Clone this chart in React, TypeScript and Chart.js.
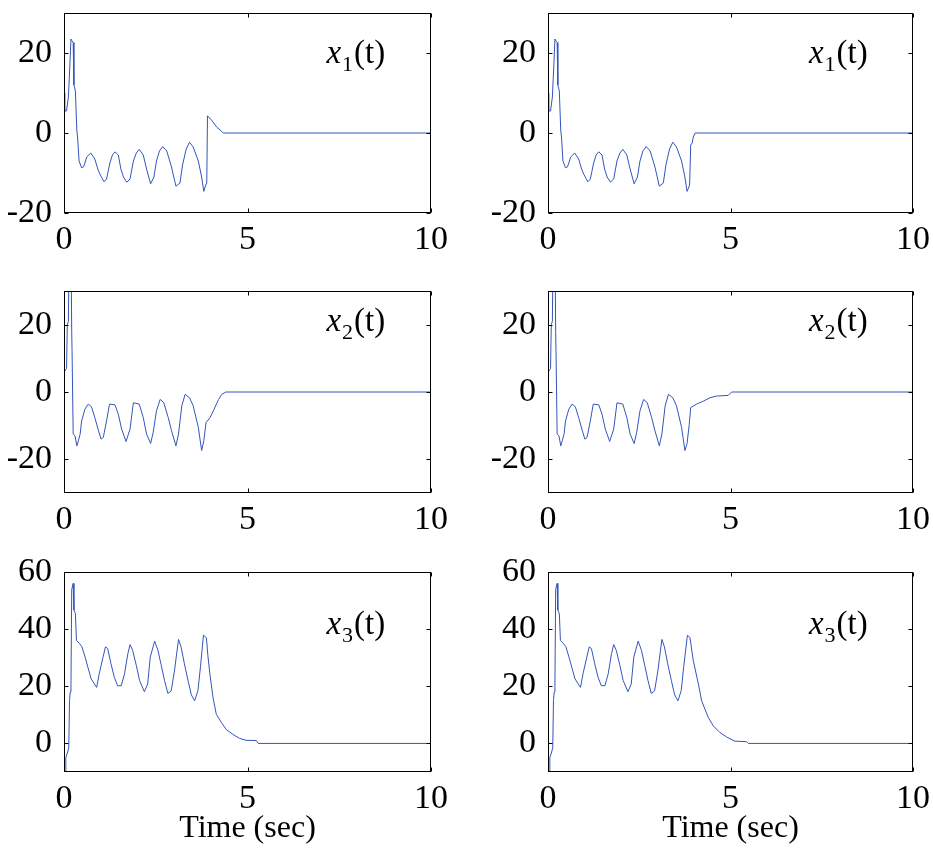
import React, { useEffect, useRef } from "react";
import { Chart, registerables } from "chart.js";

Chart.register(...registerables);

// ---------------- data ----------------
const X_TICKS = [0, 5, 10];
const X_RANGE = [0, 10];
const X_TITLE = "Time (sec)";

const Y_TICKS_X1 = [-20, 0, 20];
const Y_RANGE_X1 = [-20, 30];
const Y_TICKS_X2 = [-20, 0, 20];
const Y_RANGE_X2 = [-30, 30];
const Y_TICKS_X3 = [0, 20, 40, 60];
const Y_RANGE_X3 = [-10, 60];

const LABEL_T = 7.15;
const LABEL_Y_X1 = 17.6;
const LABEL_Y_X2 = 18.2;
const LABEL_Y_X3 = 38.4;

// x1(t), left column
const T_X1_LEFT = [0, 0.02, 0.07, 0.12, 0.16, 0.19, 0.22, 0.25, 0.27, 0.31, 0.35, 0.37, 0.41, 0.48, 0.53, 0.57, 0.62, 0.73, 0.84, 0.92, 0.98, 1.09, 1.16, 1.25, 1.32, 1.39, 1.48, 1.55, 1.62, 1.71, 1.8, 1.89, 1.97, 2.05, 2.16, 2.25, 2.36, 2.45, 2.52, 2.6, 2.69, 2.8, 2.93, 3.05, 3.16, 3.23, 3.33, 3.42, 3.52, 3.66, 3.75, 3.81, 3.86, 3.89, 3.91, 4.02, 4.16, 4.25, 4.34, 10];
const X1_LEFT = [10, 5.5, 5.5, 9, 17, 23.5, 23, 22.6, 12, 10.5, 0.5, -1, -7, -8.7, -8.5, -7.5, -6, -5, -6.5, -9, -10.3, -12.2, -11.5, -7.5, -5.5, -4.7, -5.5, -9, -11, -12.3, -11.5, -7, -5, -4.1, -5.5, -9, -12.7, -11, -7, -4.5, -3.4, -4.5, -8.5, -13.3, -12.5, -8, -4, -2.3, -3.5, -7, -11, -14.6, -13, -12.5, 4.3, 3.2, 1.5, 0.8, 0, 0];

// x1(t), right column
const T_X1_RIGHT = [0, 0.02, 0.07, 0.12, 0.16, 0.19, 0.22, 0.25, 0.27, 0.31, 0.35, 0.37, 0.41, 0.48, 0.53, 0.57, 0.62, 0.73, 0.84, 0.92, 0.98, 1.09, 1.16, 1.25, 1.32, 1.39, 1.48, 1.55, 1.62, 1.71, 1.8, 1.89, 1.97, 2.05, 2.16, 2.25, 2.36, 2.45, 2.52, 2.6, 2.69, 2.8, 2.93, 3.05, 3.16, 3.23, 3.33, 3.42, 3.52, 3.66, 3.75, 3.81, 3.86, 3.88, 3.91, 3.95, 3.98, 4.03, 10];
const X1_RIGHT = [10, 5.5, 5.5, 9, 17, 23.5, 23, 22.6, 12, 10.5, 0.5, -1, -7, -8.7, -8.5, -7.5, -6, -5, -6.5, -9, -10.3, -12.2, -11.5, -7.5, -5.5, -4.7, -5.5, -9, -11, -12.3, -11.5, -7, -5, -4.1, -5.5, -9, -12.7, -11, -7, -4.5, -3.4, -4.5, -8.5, -13.3, -12.5, -8, -4, -2.3, -3.5, -7, -11, -14.6, -13.5, -13, -3, -2.5, -1, 0, 0];

// x2(t), left column
const T_X2_LEFT = [0, 0.01, 0.07, 0.09, 0.12, 0.14, 0.19, 0.21, 0.22, 0.25, 0.3, 0.35, 0.39, 0.44, 0.48, 0.57, 0.66, 0.75, 0.84, 0.94, 1.01, 1.07, 1.16, 1.24, 1.39, 1.48, 1.57, 1.69, 1.8, 1.89, 2.05, 2.16, 2.25, 2.36, 2.43, 2.52, 2.62, 2.72, 2.84, 2.93, 3.05, 3.12, 3.21, 3.3, 3.42, 3.52, 3.66, 3.75, 3.81, 3.87, 3.98, 4.07, 4.21, 4.3, 4.41, 10];
const X2_LEFT = [-10.5, 6, 7, 20, 21, 45, 45, 18, 12, -12.5, -13, -16, -14.5, -12.5, -8.6, -5.1, -3.6, -4.4, -7.6, -11.5, -14, -13.5, -8.6, -3.6, -3.8, -6.6, -11, -14.7, -11, -3.2, -3.6, -7.6, -12.5, -15.3, -12, -5.6, -2.2, -3.2, -7.6, -11.5, -16, -12.5, -4.1, -0.7, -1.7, -4.1, -10.5, -17.4, -14.5, -9.1, -7.6, -5.6, -2.2, -0.7, 0, 0];

// x2(t), right column
const T_X2_RIGHT = [0, 0.01, 0.07, 0.09, 0.12, 0.14, 0.19, 0.21, 0.22, 0.25, 0.3, 0.35, 0.39, 0.44, 0.48, 0.57, 0.66, 0.75, 0.84, 0.94, 1.01, 1.07, 1.16, 1.24, 1.39, 1.48, 1.57, 1.69, 1.8, 1.89, 2.05, 2.16, 2.25, 2.36, 2.43, 2.52, 2.62, 2.72, 2.84, 2.93, 3.05, 3.12, 3.21, 3.3, 3.42, 3.52, 3.66, 3.75, 3.81, 3.87, 3.91, 4.07, 4.26, 4.44, 4.62, 4.94, 5.03, 10];
const X2_RIGHT = [-10.5, 6, 7, 20, 21, 45, 45, 18, 12, -12.5, -13, -16, -14.5, -12.5, -8.6, -5.1, -3.6, -4.4, -7.6, -11.5, -14, -13.5, -8.6, -3.6, -3.8, -6.6, -11, -14.7, -11, -3.2, -3.6, -7.6, -12.5, -15.3, -12, -5.6, -2.2, -3.2, -7.6, -11.5, -16, -12.5, -4.1, -0.7, -1.7, -4.1, -10.5, -17.4, -15.3, -9.6, -4.6, -3.6, -2.7, -1.7, -1.2, -1.0, 0, 0];

// x3(t), left column
const T_X3_LEFT = [0, 0.04, 0.05, 0.1, 0.13, 0.15, 0.17, 0.19, 0.21, 0.25, 0.27, 0.31, 0.34, 0.42, 0.49, 0.58, 0.65, 0.74, 0.83, 0.89, 0.96, 1.06, 1.13, 1.19, 1.28, 1.37, 1.46, 1.56, 1.65, 1.74, 1.8, 1.87, 1.97, 2.06, 2.19, 2.28, 2.35, 2.47, 2.56, 2.65, 2.74, 2.83, 2.92, 3.01, 3.12, 3.19, 3.28, 3.38, 3.47, 3.56, 3.65, 3.72, 3.8, 3.88, 3.92, 3.98, 4.06, 4.15, 4.29, 4.42, 4.6, 4.78, 4.96, 5.24, 5.29, 10];
const X3_LEFT = [-9.8, -9.8, -5, -3, -1.5, 15, 18, 20.8, 53.8, 56, 46.7, 45.5, 36, 35, 33.8, 30, 26.7, 22.6, 20.8, 19.6, 24.4, 30, 33.8, 33.2, 27.9, 23.2, 20.2, 20.2, 24.4, 31.4, 34.6, 32.6, 27.3, 22, 18.1, 20.8, 30.2, 35.8, 32.6, 27.3, 22, 17.5, 18.4, 25.4, 36.4, 33.8, 27.9, 22, 17, 14.9, 18.5, 27, 37.9, 37, 30.8, 23.8, 16.1, 10.2, 7.3, 4.9, 3.2, 1.8, 1.1, 1.0, 0, 0];

// x3(t), right column
const T_X3_RIGHT = [0, 0.04, 0.05, 0.1, 0.13, 0.15, 0.17, 0.19, 0.21, 0.25, 0.27, 0.31, 0.34, 0.42, 0.49, 0.58, 0.65, 0.74, 0.83, 0.89, 0.96, 1.06, 1.13, 1.19, 1.28, 1.37, 1.46, 1.56, 1.65, 1.74, 1.8, 1.87, 1.97, 2.06, 2.19, 2.28, 2.35, 2.47, 2.56, 2.65, 2.74, 2.83, 2.92, 3.01, 3.12, 3.19, 3.28, 3.38, 3.47, 3.56, 3.65, 3.72, 3.82, 3.89, 3.98, 4.12, 4.21, 4.39, 4.53, 4.71, 4.9, 5.12, 5.44, 5.49, 10];
const X3_RIGHT = [-9.8, -9.8, -5, -3, -1.5, 15, 18, 20.8, 53.8, 56, 46.7, 45.5, 36, 35, 33.8, 30, 26.7, 22.6, 20.8, 19.6, 24.4, 30, 33.8, 33.2, 27.9, 23.2, 20.2, 20.2, 24.4, 31.4, 34.6, 32.6, 27.3, 22, 18.1, 20.8, 30.2, 35.8, 32.6, 27.3, 22, 17.5, 18.4, 25.4, 36.4, 33.8, 27.9, 22, 17, 14.9, 18.5, 27, 37.9, 37, 29, 20.8, 14.9, 9.1, 6.1, 3.8, 2.2, 0.8, 0.6, 0, 0];

// ---------------- styling ----------------
const FONT = '"Liberation Serif", "Times New Roman", serif';
const LINE_COLOR = "#3355bb";
const TICK_LEN = 4;
const Y_AXIS_W = 64;
const PAD_TOP = 44;
const PAD_RIGHT = 24;

const decorPlugin = {
  id: "panelDecor",
  afterDraw(chart: any, _args: any, opts: any) {
    const { ctx, chartArea: a } = chart;
    const xs = chart.scales.x;
    const ys = chart.scales.y;
    ctx.save();
    ctx.strokeStyle = "#000";
    ctx.lineWidth = 1;
    const L = Math.round(a.left) + 0.5;
    const R = Math.round(a.right) - 0.5;
    const T = Math.round(a.top) + 0.5;
    const B = Math.round(a.bottom) - 0.5;
    ctx.strokeRect(L, T, R - L, B - T);
    ctx.beginPath();
    for (const tk of xs.ticks) {
      const px = Math.round(xs.getPixelForValue(tk.value)) + 0.5;
      ctx.moveTo(px, B);
      ctx.lineTo(px, B - TICK_LEN);
      ctx.moveTo(px, T);
      ctx.lineTo(px, T + TICK_LEN);
    }
    for (const tk of ys.ticks) {
      const py = Math.round(ys.getPixelForValue(tk.value)) + 0.5;
      ctx.moveTo(L, py);
      ctx.lineTo(L + TICK_LEN, py);
      ctx.moveTo(R, py);
      ctx.lineTo(R - TICK_LEN, py);
    }
    ctx.stroke();

    const lx = xs.getPixelForValue(opts.x);
    const ly = ys.getPixelForValue(opts.y);
    ctx.fillStyle = "#000";
    ctx.textAlign = "left";
    ctx.textBaseline = "alphabetic";
    ctx.font = `italic 33px ${FONT}`;
    ctx.fillText("x", lx, ly);
    let cx = lx + ctx.measureText("x").width + 1;
    ctx.font = `22px ${FONT}`;
    ctx.fillText(opts.sub, cx, ly + 8);
    cx += ctx.measureText(opts.sub).width + 1;
    ctx.font = `33px ${FONT}`;
    ctx.fillText("(t)", cx, ly);
    ctx.restore();
  },
};

type PanelProps = {
  t: number[];
  v: number[];
  yRange: number[];
  yTicks: number[];
  sub: string;
  labelY: number;
  title: boolean;
  plotLeft: number;
  plotTop: number;
  plotW: number;
  plotH: number;
};

function Panel(p: PanelProps) {
  const ref = useRef<HTMLCanvasElement>(null);
  const xh = p.title ? 80 : 50;
  const W = Y_AXIS_W + p.plotW + PAD_RIGHT;
  const H = PAD_TOP + p.plotH + xh;

  useEffect(() => {
    const chart = new Chart(ref.current as HTMLCanvasElement, {
      type: "line",
      data: {
        datasets: [
          {
            data: p.t.map((t, i) => ({ x: t, y: p.v[i] })),
            borderColor: LINE_COLOR,
            borderWidth: 1,
            pointRadius: 0,
            tension: 0,
            fill: false,
          },
        ],
      },
      options: {
        responsive: false,
        animation: false,
        events: [],
        layout: { padding: { left: 0, top: PAD_TOP, right: PAD_RIGHT, bottom: 0 } },
        plugins: {
          legend: { display: false },
          tooltip: { enabled: false },
          panelDecor: { x: LABEL_T, y: p.labelY, sub: p.sub },
        } as any,
        scales: {
          x: {
            type: "linear",
            min: X_RANGE[0],
            max: X_RANGE[1],
            afterBuildTicks: (s: any) => {
              s.ticks = X_TICKS.map((value) => ({ value }));
            },
            afterFit: (s: any) => {
              s.height = xh;
            },
            grid: { display: false, drawTicks: false },
            border: { display: false },
            ticks: {
              font: { family: FONT, size: 34 },
              color: "#000",
              padding: 7,
              maxRotation: 0,
              autoSkip: false,
            },
            title: {
              display: p.title,
              text: X_TITLE,
              font: { family: FONT, size: 32 },
              color: "#000",
              padding: { top: 0, bottom: 4 },
            },
          },
          y: {
            type: "linear",
            min: p.yRange[0],
            max: p.yRange[1],
            afterBuildTicks: (s: any) => {
              s.ticks = p.yTicks.map((value) => ({ value }));
            },
            afterFit: (s: any) => {
              s.width = Y_AXIS_W;
            },
            grid: { display: false, drawTicks: false },
            border: { display: false },
            ticks: {
              font: { family: FONT, size: 34 },
              color: "#000",
              padding: 12,
              autoSkip: false,
            },
          },
        },
      } as any,
      plugins: [decorPlugin as any],
    });
    return () => chart.destroy();
  }, []);

  return (
    <canvas
      ref={ref}
      width={W}
      height={H}
      style={{
        position: "absolute",
        left: p.plotLeft - Y_AXIS_W,
        top: p.plotTop - PAD_TOP,
        width: W,
        height: H,
      }}
    />
  );
}

const COLS = [
  { plotLeft: 64, plotW: 367 },
  { plotLeft: 548, plotW: 365 },
];
const ROWS = [
  { plotTop: 13, plotH: 200 },
  { plotTop: 291, plotH: 202 },
  { plotTop: 572, plotH: 200 },
];

export default function App() {
  const panels = [
    { t: T_X1_LEFT, v: X1_LEFT, yRange: Y_RANGE_X1, yTicks: Y_TICKS_X1, sub: "1", labelY: LABEL_Y_X1, r: 0, c: 0 },
    { t: T_X1_RIGHT, v: X1_RIGHT, yRange: Y_RANGE_X1, yTicks: Y_TICKS_X1, sub: "1", labelY: LABEL_Y_X1, r: 0, c: 1 },
    { t: T_X2_LEFT, v: X2_LEFT, yRange: Y_RANGE_X2, yTicks: Y_TICKS_X2, sub: "2", labelY: LABEL_Y_X2, r: 1, c: 0 },
    { t: T_X2_RIGHT, v: X2_RIGHT, yRange: Y_RANGE_X2, yTicks: Y_TICKS_X2, sub: "2", labelY: LABEL_Y_X2, r: 1, c: 1 },
    { t: T_X3_LEFT, v: X3_LEFT, yRange: Y_RANGE_X3, yTicks: Y_TICKS_X3, sub: "3", labelY: LABEL_Y_X3, r: 2, c: 0 },
    { t: T_X3_RIGHT, v: X3_RIGHT, yRange: Y_RANGE_X3, yTicks: Y_TICKS_X3, sub: "3", labelY: LABEL_Y_X3, r: 2, c: 1 },
  ];
  return (
    <div
      style={{
        position: "absolute",
        left: 0,
        top: 0,
        width: 933,
        height: 852,
        overflow: "hidden",
        background: "#fff",
      }}
    >
      {panels.map((pn, i) => (
        <Panel
          key={i}
          t={pn.t}
          v={pn.v}
          yRange={pn.yRange}
          yTicks={pn.yTicks}
          sub={pn.sub}
          labelY={pn.labelY}
          title={pn.r === 2}
          plotLeft={COLS[pn.c].plotLeft}
          plotTop={ROWS[pn.r].plotTop}
          plotW={COLS[pn.c].plotW}
          plotH={ROWS[pn.r].plotH}
        />
      ))}
    </div>
  );
}
